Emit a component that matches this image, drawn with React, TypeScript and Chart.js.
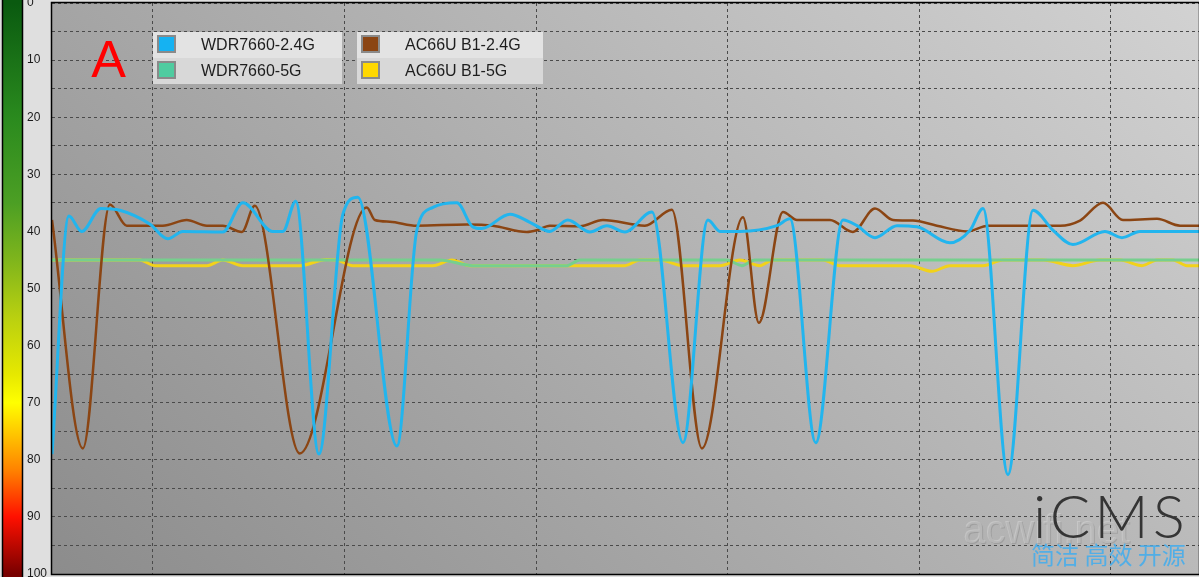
import React, { useEffect, useRef } from "react";
import { Chart, registerables } from "chart.js";

Chart.register(...registerables);

// ---- data ----
const seriesNames = ["WDR7660-2.4G", "WDR7660-5G", "AC66U B1-2.4G", "AC66U B1-5G"];
const lineColors = ["#22b5ee", "#76cf8e", "#8b4513", "#f2d21a"];
const swatchColors = ["#15b2f2", "#4fcca0", "#8b4513", "#ffd800"];

const xMin = -52.6;
const xMax = 546;
const xGridTimes = [0, 100, 200, 300, 400, 500];
const yTickStep = 5;
const yLabelStep = 10;

const wdr24Time = [-52.6, -43.8, -37.1, -27.1, -17.2, -1.6, 7.8, 15.7, 36.5, 47, 62.6, 67.9, 74.6, 86.7, 99.2, 107, 127.4, 137.8, 146.2, 158.7, 167, 171.7, 186.4, 196.8, 207.2, 216.6, 228.1, 237, 246.4, 260.5, 276.7, 289.7, 296, 306.4, 325.7, 332.5, 346, 360.2, 367.5, 376.9, 388.4, 398.8, 416, 426.5, 433.3, 446.3, 459.4, 469.8, 480.2, 496.9, 505.8, 515.2, 546];
const wdr24Value = [79, 37.3, 40, 36, 36.3, 38.7, 41.3, 40, 40.1, 35, 40, 40, 34.7, 79, 37, 34, 77.6, 39.8, 35.8, 35, 39.2, 39.5, 37, 38.4, 40, 38, 40.1, 39, 40.1, 36.6, 77, 38, 40, 40, 39, 37.8, 77, 38, 39, 41.1, 39, 39.2, 42, 39.8, 36, 82.6, 36.3, 39.8, 42.3, 40, 41.1, 40, 40];

const wdr5Time = [-52.6, 149.8, 167, 216.1, 222.9, 299.6, 307.5, 314.2, 546];
const wdr5Value = [45, 45, 46, 46, 45, 45, 46, 45, 45];

const ac24Time = [-52.6, -36.5, -22.4, -13.6, 5.2, 17.7, 28.2, 36.5, 46.5, 53.2, 76.7, 111.7, 115.9, 123.7, 137.8, 163.9, 177.5, 195.2, 200.4, 207.2, 222.9, 234.9, 256.8, 270.9, 286.6, 308, 316.3, 328.9, 336.2, 353.4, 365.4, 376.9, 386.3, 396.7, 409.2, 424.9, 435.9, 473.5, 483.9, 495.9, 506.3, 524.1, 536.1, 546];
const ac24Value = [38, 78, 35.3, 39, 39, 38, 39, 39, 40.1, 35.5, 78.9, 35.8, 38, 38.3, 39, 38.8, 39, 40.1, 39.8, 39, 39.1, 38, 39, 36.2, 78, 37.5, 56, 36.6, 38, 38, 40.1, 36, 38, 38.1, 39, 40, 39, 39, 38.1, 35, 38, 37.8, 39, 39];

const ac5Time = [-52.6, -6.8, 1, 28.2, 36.5, 47, 76.7, 90.8, 96, 104.4, 146.2, 156.1, 165.5, 246.4, 254.2, 264.7, 276.7, 296, 306.4, 316.9, 323.6, 349.7, 358.6, 395.2, 406.6, 416, 433.3, 443.7, 464.6, 480.2, 494.3, 504.8, 516.3, 524.1, 532.4, 539.7, 546];
const ac5Value = [45, 45, 46, 46, 45, 46, 46, 44.9, 45, 46, 46, 45, 46, 46, 45, 45, 46, 46, 45, 46, 45, 45, 46, 46, 47, 46, 46, 45, 45, 46, 45, 45, 46, 45, 45, 46, 46];

const seriesTimes = [wdr24Time, wdr5Time, ac24Time, ac5Time];
const seriesValues = [wdr24Value, wdr5Value, ac24Value, ac5Value];
const drawOrder = [0, 2, 1, 3];
const lineWidths = [3, 3, 2.5, 3];

const panelLabel = "A";
const watermarkMain = "iCMS";
const watermarkSub = "简洁 高效 开源";
const watermarkSite = "acwifi.net";

const bgPlugin = {
  id: "bgPlugin",
  beforeDraw(chart: any) {
    const { ctx, chartArea: a, width, height } = chart;
    ctx.save();
    ctx.fillStyle = "#dfdfdf";
    ctx.fillRect(0, 0, width, height);
    // color scale bar
    const g = ctx.createLinearGradient(0, a.top, 0, a.bottom);
    g.addColorStop(0, "#0a5a10");
    g.addColorStop(0.2, "#2a8a1e");
    g.addColorStop(0.35, "#4c9f24");
    g.addColorStop(0.45, "#7fb51c");
    g.addColorStop(0.55, "#b9d010");
    g.addColorStop(0.65, "#e6e800");
    g.addColorStop(0.7, "#ffff00");
    g.addColorStop(0.76, "#ffc000");
    g.addColorStop(0.82, "#ff8000");
    g.addColorStop(0.9, "#ff1000");
    g.addColorStop(1, "#780000");
    ctx.fillStyle = g;
    ctx.fillRect(3, 0, 19, height);
    ctx.strokeStyle = "#000";
    ctx.lineWidth = 1.5;
    ctx.strokeRect(2.5, -2, 20, height + 4);
    // plot background
    const bg = ctx.createLinearGradient(a.left, a.bottom, a.left + 817, a.bottom - 878);
    bg.addColorStop(0, "#8c8c8c");
    bg.addColorStop(1, "#d2d2d2");
    ctx.fillStyle = bg;
    ctx.fillRect(a.left, a.top, a.right - a.left, a.bottom - a.top);
    ctx.restore();
  },
};

const overlayPlugin = {
  id: "overlayPlugin",
  afterDraw(chart: any) {
    const { ctx, chartArea: a } = chart;
    ctx.save();
    // frame
    ctx.strokeStyle = "#000";
    ctx.lineWidth = 1.5;
    ctx.strokeRect(a.left - 0.5, a.top - 0.5, a.right - a.left + 1, a.bottom - a.top + 1);

    // panel label
    ctx.fillStyle = "#ff0000";
    ctx.font = "52px 'Liberation Sans', Arial, sans-serif";
    ctx.textAlign = "center";
    ctx.textBaseline = "alphabetic";
    ctx.fillText(panelLabel, 108.5, 77);

    // legend boxes
    const boxes = [
      { x: 153, w: 189, items: [0, 1] },
      { x: 357, w: 186, items: [2, 3] },
    ];
    const top = 32;
    const rowH = 26;
    boxes.forEach((b) => {
      b.items.forEach((si, r) => {
        const y = top + r * rowH;
        ctx.fillStyle = r === 0 ? "#e3e3e3" : "#d8d8d8";
        ctx.fillRect(b.x, y, b.w, rowH);
        ctx.fillStyle = "#8a8a8a";
        ctx.fillRect(b.x + 4, y + 3, 19, 18);
        ctx.fillStyle = swatchColors[si];
        ctx.fillRect(b.x + 6, y + 5, 15, 14);
        ctx.fillStyle = "#1e1e1e";
        ctx.font = "16px 'Liberation Sans', Arial, sans-serif";
        ctx.textAlign = "left";
        ctx.textBaseline = "middle";
        ctx.fillText(seriesNames[si], b.x + 48, y + 13.5);
      });
    });

    // watermark
    ctx.textAlign = "left";
    ctx.textBaseline = "alphabetic";
    ctx.font = "40px 'Liberation Sans', Arial, sans-serif";
    ctx.fillStyle = "rgba(80,80,80,0.2)";
    ctx.fillText(watermarkSite, 964, 544);
    ctx.fillStyle = "rgba(230,230,230,0.35)";
    ctx.fillText(watermarkSite, 963, 543);

    ctx.font = "300 60px Lato, 'Liberation Sans', sans-serif";
    ctx.fillStyle = "#353535";
    try {
      (ctx as any).letterSpacing = "4px";
    } catch (e) {}
    ctx.fillText(watermarkMain, 1033, 538);
    try {
      (ctx as any).letterSpacing = "0px";
    } catch (e) {}

    ctx.font = "24px 'Noto Sans CJK SC', sans-serif";
    ctx.fillStyle = "#52aee6";
    ctx.fillText(watermarkSub, 1031, 564);
    ctx.restore();
  },
};

export default function App() {
  const ref = useRef<HTMLCanvasElement | null>(null);

  useEffect(() => {
    document.body.style.margin = "0";
    const canvas = ref.current;
    if (!canvas) return;
    const datasets = drawOrder.map((si, k) => ({
      label: seriesNames[si],
      data: seriesTimes[si].map((t, i) => ({ x: t, y: seriesValues[si][i] })),
      borderColor: lineColors[si],
      backgroundColor: lineColors[si],
      borderWidth: lineWidths[si],
      pointRadius: 0,
      fill: false,
      cubicInterpolationMode: "monotone" as const,
      order: k,
    }));

    const chart = new Chart(canvas, {
      type: "line",
      data: { datasets },
      options: {
        animation: false,
        responsive: false,
        maintainAspectRatio: false,
        layout: { padding: { left: 27, top: 3, bottom: 3, right: 0 } },
        plugins: {
          legend: { display: false },
          tooltip: { enabled: false },
        },
        scales: {
          x: {
            type: "linear",
            min: xMin,
            max: xMax,
            afterBuildTicks: (scale: any) => {
              scale.ticks = xGridTimes.map((v) => ({ value: v }));
            },
            afterFit: (scale: any) => {
              scale.height = 0;
              scale.paddingLeft = 0;
              scale.paddingRight = 0;
            },
            ticks: { display: false },
            border: { display: false, dash: [3, 3] },
            grid: {
              color: "#4a4a4a",
              lineWidth: 1,
              drawTicks: false,
            },
          } as any,
          y: {
            type: "linear",
            reverse: true,
            min: 0,
            max: 100,
            afterFit: (scale: any) => {
              scale.width = 25;
              scale.paddingTop = 0;
              scale.paddingBottom = 0;
            },
            ticks: {
              stepSize: yTickStep,
              autoSkip: false,
              crossAlign: "far",
              padding: 0,
              color: "#1a1a1a",
              font: { family: "'Liberation Sans', Arial, sans-serif", size: 12 },
              callback: (v: any) => (Number(v) % yLabelStep === 0 ? String(v) : ""),
            },
            border: { display: false, dash: [3, 3] },
            grid: {
              color: "#4a4a4a",
              lineWidth: 1,
              drawTicks: false,
            },
          } as any,
        },
      },
      plugins: [bgPlugin, overlayPlugin],
    } as any);

    return () => chart.destroy();
  }, []);

  return (
    <div style={{ position: "absolute", left: 0, top: 0, width: 1199, height: 577 }}>
      <canvas ref={ref} width={1199} height={577} style={{ display: "block" }} />
    </div>
  );
}
